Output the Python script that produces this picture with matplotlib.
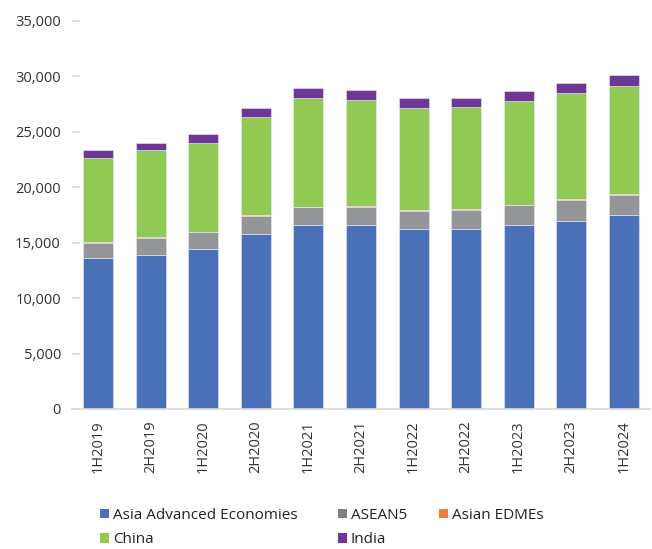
import matplotlib
matplotlib.use("Agg")
import matplotlib.pyplot as plt
from matplotlib.patches import Patch
import numpy as np

plt.rcParams['font.family'] = ['Open Sans', 'DejaVu Sans']

periods = ["1H2019", "2H2019", "1H2020", "2H2020", "1H2021", "2H2021",
           "1H2022", "2H2022", "1H2023", "2H2023", "1H2024"]

asia_advanced = [13600, 13930, 14450, 15780, 16560, 16590, 16220, 16280, 16640, 17000, 17460]
asean5 = [1400, 1510, 1510, 1590, 1620, 1650, 1630, 1660, 1750, 1840, 1840]
asian_edmes = [50, 60, 50, 90, 60, 60, 60, 60, 40, 60, 60]
china = [7600, 7820, 8020, 8880, 9850, 9540, 9270, 9210, 9360, 9570, 9740]
india = [670, 700, 750, 810, 870, 900, 900, 870, 930, 970, 1060]

series = [
    ("Asia Advanced Economies", asia_advanced, "#4a71b8"),
    ("ASEAN5", asean5, "#939598"),
    ("Asian EDMEs", asian_edmes, "#ed7d31"),
    ("China", china, "#92c854"),
    ("India", india, "#6f3795"),
]
legend_colors = {"ASEAN5": "#808080"}

fig = plt.figure(figsize=(6.52, 5.49), dpi=100)
ax = fig.add_axes([72 / 652, 1 - 409 / 549, 578 / 652, (409 - 21) / 549])

x = np.arange(len(periods))
bottom = np.zeros(len(periods))
handles = {}
for name, vals, color in series:
    vals = np.array(vals, dtype=float)
    ax.bar(x, vals, bottom=bottom, width=0.57, color=color,
           edgecolor="#e8ecf4", linewidth=0.4)
    bottom += vals
    handles[name] = Patch(facecolor=legend_colors.get(name, color), edgecolor="none")

ax.set_xlim(-0.5, len(periods) - 0.5)
ax.set_ylim(0, 35000)
ax.set_yticks(np.arange(0, 35001, 5000))
ax.set_yticklabels([f"{v:,}" for v in range(0, 35001, 5000)])
ax.set_xticks(x)
ax.set_xticklabels(periods, rotation=90)

for side in ("top", "right", "left"):
    ax.spines[side].set_visible(False)
ax.spines["bottom"].set_color("#d9d9d9")
ax.spines["bottom"].set_linewidth(1.2)
ax.tick_params(axis="y", direction="in", length=6, width=1.2, color="#d9d9d9",
               labelsize=10.5, labelcolor="#333333", pad=8)
ax.tick_params(axis="x", length=0, labelsize=10.5, labelcolor="#333333", pad=8)

# legend laid out as three columns, row-major like the series order
columns = [
    (100, ["Asia Advanced Economies", "China"]),
    (338, ["ASEAN5", "India"]),
    (439, ["Asian EDMEs"]),
]
for xpix, names in columns:
    leg = fig.legend([handles[n] for n in names], names, frameon=False,
                     loc="upper left", bbox_to_anchor=(xpix / 652, 1 - 508 / 549),
                     fontsize=11, handlelength=0.6, handleheight=0.6,
                     handletextpad=0.25, labelspacing=0.62,
                     borderaxespad=0, borderpad=0)
    for t in leg.get_texts():
        t.set_color("#222222")

fig.savefig("out.png", dpi=100)
